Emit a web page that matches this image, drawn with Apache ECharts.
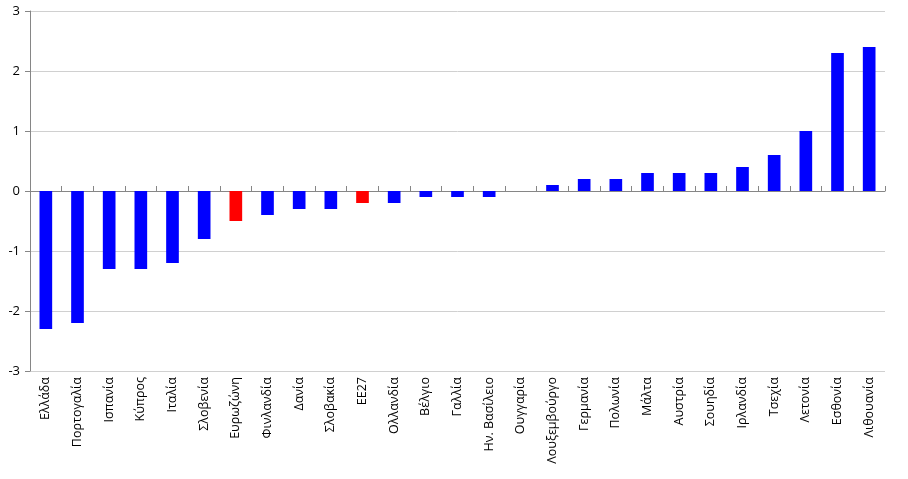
<!DOCTYPE html>
<html><head><meta charset="utf-8">
<script src="https://cdn.jsdelivr.net/npm/echarts@6/dist/echarts.min.js"></script>
<style>html,body{margin:0;padding:0;background:#fff}#c{width:908px;height:479px}</style>
</head><body><div id="c"></div>
<script>
var categories = ['Ελλάδα','Πορτογαλία','Ισπανία','Κύπρος','Ιταλία','Σλοβενία','Ευρωζώνη','Φινλανδία','Δανία','Σλοβακία','ΕΕ27','Ολλανδία','Βέλγιο','Γαλλία','Ην. Βασίλειο','Ουγγαρία','Λουξεμβούργο','Γερμανία','Πολωνία','Μάλτα','Αυστρία','Σουηδία','Ιρλανδία','Τσεχία','Λετονία','Εσθονία','Λιθουανία'];
var values = [-2.3,-2.2,-1.3,-1.3,-1.2,-0.8,-0.5,-0.4,-0.3,-0.3,-0.2,-0.2,-0.1,-0.1,-0.1,0,0.1,0.2,0.2,0.3,0.3,0.3,0.4,0.6,1.0,2.3,2.4];
var highlighted = ['Ευρωζώνη','ΕΕ27'];
var yTicks = [-3,-2,-1,0,1,2,3];

var data = values.map(function(v,i){
  return {value:v, itemStyle:{color: highlighted.indexOf(categories[i])>=0 ? '#FF0000' : '#0000FF'}};
});
var chart = echarts.init(document.getElementById('c'));
var font = 'Open Sans, Liberation Sans, sans-serif';
chart.setOption({
  animation:false,
  grid:{left:30,right:23,top:11,bottom:108},
  xAxis:[{
    type:'category', data:categories, position:'bottom',
    axisLine:{show:false,onZero:false}, axisTick:{show:false},
    axisLabel:{rotate:90, interval:0, fontSize:12.5, color:'#000', fontFamily:font, margin:6}
  },{
    type:'category', data:categories,
    axisLine:{show:true,onZero:true,lineStyle:{color:'#868686',width:1}},
    axisTick:{show:true,inside:false,length:5,interval:0,lineStyle:{color:'#868686'}},
    axisLabel:{show:false}
  }],
  yAxis:{
    type:'value', min:-3, max:3, interval:1,
    axisLine:{show:true,lineStyle:{color:'#868686'}},
    axisTick:{show:true,length:5,lineStyle:{color:'#868686'}},
    axisLabel:{color:'#000',fontSize:13,fontFamily:font,margin:10,formatter:function(v){return yTicks.indexOf(v)>=0?String(v):'';}},
    splitLine:{lineStyle:{color:'#d0d0d0'}}
  },
  series:[{type:'bar', data:data, barWidth:'40%'}]
});
</script></body></html>
